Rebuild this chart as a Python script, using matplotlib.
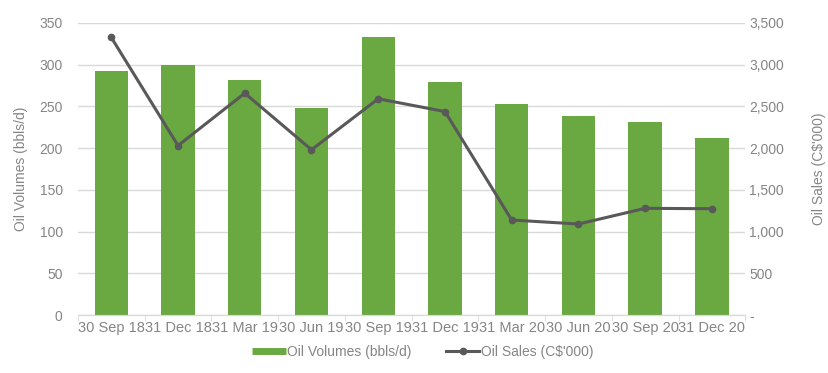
import numpy as np
import matplotlib.pyplot as plt
from matplotlib.lines import Line2D
from matplotlib.ticker import FuncFormatter, FixedLocator

plt.rcParams['font.family'] = ['Liberation Sans', 'DejaVu Sans']

quarters = ['30 Sep 18', '31 Dec 18', '31 Mar 19', '30 Jun 19', '30 Sep 19',
            '31 Dec 19', '31 Mar 20', '30 Jun 20', '30 Sep 20', '31 Dec 20']
oil_volumes = [292, 300, 281, 248, 333, 279, 253, 238, 231, 212]
oil_sales = [3324, 2030, 2657, 1980, 2590, 2437, 1139, 1091, 1279, 1274]

green = '#6aa842'
line_grey = '#595959'
text_grey = '#858585'
grid_grey = '#d9d9d9'

fig = plt.figure(figsize=(8.29, 3.73), dpi=100)
ax = fig.add_axes([0.094, 0.155, 0.805, 0.784])
ax2 = ax.twinx()

index = np.arange(len(quarters))
ax.bar(index, oil_volumes, width=0.5, color=green, zorder=2)
ax2.plot(index, oil_sales, color=line_grey, lw=2.2, marker='o', markersize=4.5, zorder=3)

ax.set_xlim(-0.5, 9.5)
ax.set_ylim(0, 350)
ax.set_yticks(range(0, 351, 50))
ax2.set_ylim(0, 3500)
ax2.set_yticks(range(0, 3501, 500))
ax2.yaxis.set_major_formatter(FuncFormatter(lambda v, p: '-' if v == 0 else f'{int(v):,}'))

ax.set_xticks(index)
ax.set_xticklabels(quarters)
ax.xaxis.set_minor_locator(FixedLocator(np.arange(-0.5, 10, 1)))
ax.tick_params(axis='x', which='major', length=0, pad=4, labelsize=10.5, labelcolor=text_grey)
ax.tick_params(axis='x', which='minor', length=4, color=grid_grey)
ax.tick_params(axis='y', length=0, pad=11, labelsize=10, labelcolor=text_grey)
ax2.tick_params(axis='y', length=0, pad=3, labelsize=10, labelcolor=text_grey)

ax.grid(axis='y', color=grid_grey, lw=1, zorder=0)
ax.set_axisbelow(True)
for a in (ax, ax2):
    for side in ('top', 'left', 'right'):
        a.spines[side].set_visible(False)
    a.spines['bottom'].set_color(grid_grey)

ax.set_ylabel('Oil Volumes (bbls/d)', fontsize=10, color=text_grey, labelpad=8)
ax2.set_ylabel("Oil Sales (C$'000)", fontsize=10, color=text_grey, labelpad=20)

handles = [Line2D([0], [0], color=green, lw=5, solid_capstyle='butt'),
           Line2D([0], [0], color=line_grey, lw=2.2, marker='o', markersize=4.5)]
fig.legend(handles, ['Oil Volumes (bbls/d)', "Oil Sales (C$'000)"], loc='center',
           bbox_to_anchor=(0.51, 0.056), ncol=2, frameon=False, fontsize=10,
           labelcolor=text_grey, handlelength=2.4, handletextpad=0.1, columnspacing=2.5)

fig.savefig('out.png', dpi=100)
